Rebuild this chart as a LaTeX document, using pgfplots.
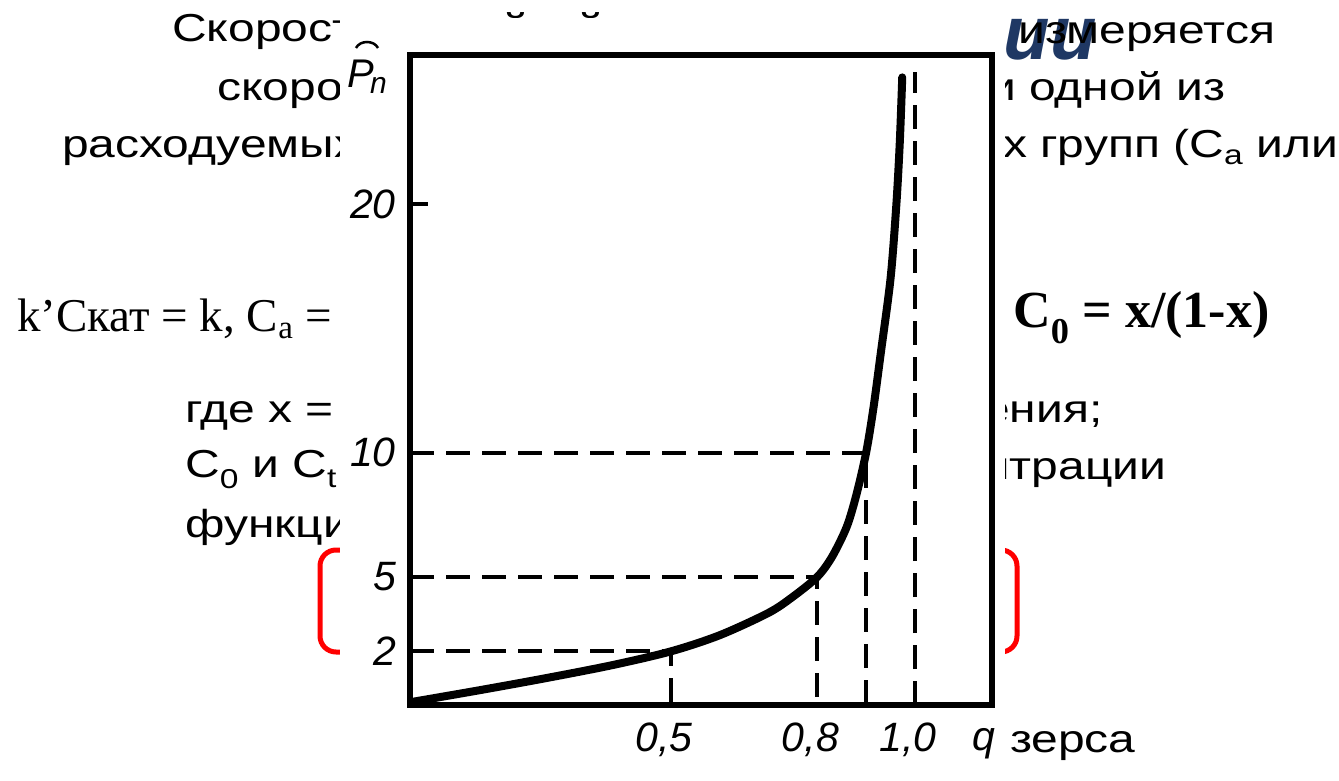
\documentclass[border=0pt]{standalone}
\usepackage{pgfplots}
\pgfplotsset{compat=1.18}
\usepackage{fontspec}
\setmainfont{Liberation Sans}
\newfontfamily\slidesans[FakeStretch=1.23]{Liberation Sans}
\newfontfamily\slideserif{Liberation Serif}
\newfontfamily\tickfam{Liberation Sans}
\definecolor{titleblue}{RGB}{31,56,100}
\definecolor{slidered}{RGB}{255,0,0}
\newcommand\st{\fontsize{39}{47}\selectfont\slidesans}
\newcommand\tf{\fontsize{41}{41}\selectfont\tickfam\itshape}
\tikzset{dl/.style={line width=4pt, dash pattern=on 24pt off 12pt}}
\begin{document}
\begin{tikzpicture}[x=1pt,y=1pt]
\path[use as bounding box] (0,0) rectangle (1339,780);
\clip (0,0) rectangle (1339,780);
\begin{scope}[every node/.style={inner sep=0pt, anchor=base west}]
\node[anchor=base east] at (1097,720) {\fontsize{76}{76}\selectfont\bfseries\itshape\color{titleblue}ии};
\node at (172,738) {\st Скорость};
\node at (502,738) {\st й};
\node at (577,738) {\st й};
\node at (1018,736) {\st измеряется};
\node at (217,679) {\st скорость};
\node at (989,679) {\st и одной из};
\node at (62,622) {\st расходуемых};
\node at (1003,622) {\st х групп (C\textsubscript{a} или};
\node at (17,448) {\fontsize{47}{50}\selectfont\slideserif k’Скат = k, C\textsubscript{a} =};
\node at (1013,452) {\fontsize{52}{56}\selectfont\slideserif\bfseries C\textsubscript{0} = x/(1-x)};
\node at (185,357) {\st где x =};
\node at (983,357) {\st ения;};
\node at (185,302) {\st C\textsubscript{0} и C\textsubscript{t}};
\node at (983,300) {\st нтрации};
\node at (185,243) {\st функции};
\node at (1010,28) {\st зерса};
\end{scope}
\draw[slidered, line width=5pt, rounded corners=16pt] (320,128) rectangle (1017,230);
\fill[white] (340,0) rectangle (1005,762);
\begin{axis}[at={(410pt,75pt)}, anchor=south west, scale only axis,
  width=582pt, height=650pt,
  xmin=-0.035, xmax=1.158, ymin=-0.16, ymax=26,
  axis line style={line width=6pt},
  xtick={0.5,0.8,1.0}, xticklabels={{0,5},{0,8},{1,0}},
  ytick={2,5,10,20}, yticklabels={2,5,10,20},
  tick pos=left, tick align=inside, major tick length=18pt,
  tick style={line width=3.5pt, black}, xtick style={draw=none},
  ticklabel style={font=\tf, inner sep=0pt},
  yticklabel style={anchor=east, xshift=-14pt},
  xticklabel style={anchor=north, yshift=-18pt, xshift=-7pt},
]
\addplot[dl] coordinates {(-0.035,2) (0.5,2) (0.5,-0.16)};
\addplot[dl] coordinates {(-0.035,5) (0.8,5) (0.8,-0.16)};
\addplot[dl] coordinates {(-0.035,10) (0.9,10) (0.9,-0.16)};
\addplot[dl] coordinates {(1.0,-0.16) (1.0,25.3)};
\addplot[line width=8pt, smooth, tension=0.5, line cap=round] coordinates {
(-0.035,-0.05) (0.109,0.44) (0.246,0.93) (0.381,1.45) (0.5,2.0) (0.6,2.65)
(0.7,3.55) (0.75,4.2) (0.8,5.0) (0.83,5.8) (0.86,7.0) (0.88,8.3) (0.9,10)
(0.915,11.8) (0.93,14.0) (0.95,17.0) (0.962,20.0) (0.969,22.5) (0.974,25.1)};
\end{axis}
\node[anchor=base west, inner sep=0pt] at (347,692) {\fontsize{40}{40}\selectfont\tickfam\itshape P};
\node[anchor=base west, inner sep=0pt] at (370,686) {\fontsize{30}{30}\selectfont\tickfam\itshape n};
\draw[line width=2.5pt] (356,732) .. controls (360,740) and (374,740) .. (378,732);
\node[anchor=base, inner sep=0pt] at (984,30) {\tf q};
\end{tikzpicture}
\end{document}
